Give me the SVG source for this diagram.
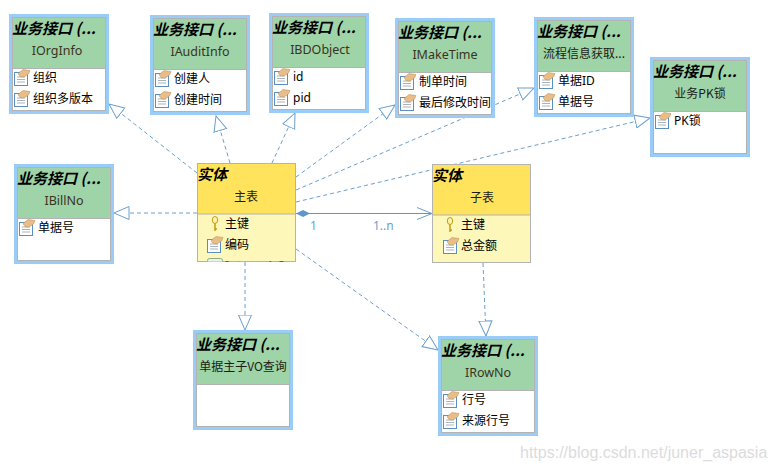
<svg xmlns="http://www.w3.org/2000/svg" width="775" height="470" viewBox="0 0 775 470">
<style>
.o{fill:#99ccf7}
.b{fill:#fff;stroke:#b3b3b3;stroke-width:1}
.h{fill:#9fd3a8;stroke:#b3b3b3;stroke-width:1}
.eh{fill:#ffe35c;stroke:#b3b3b3;stroke-width:1}
.eb{fill:#fdf7b9;stroke:#b3b3b3;stroke-width:1}
.t{font:italic bold 15px "Noto Sans CJK SC","Liberation Sans",sans-serif;fill:#000}
.n{font:12.500px "Noto Sans","Noto Sans CJK SC",sans-serif;fill:#3a3320;text-anchor:middle}
.nc{font:12px "Noto Sans CJK SC","Noto Sans",sans-serif;fill:#1c1c14;text-anchor:middle}
.f{font:12px "Noto Sans","Noto Sans CJK SC",sans-serif;fill:#000}
.c{fill:none;stroke:#6a9fd0;stroke-width:1;stroke-dasharray:4 3}
.s{fill:none;stroke:#5f95c8;stroke-width:1}
.l{font:12px "Noto Sans",sans-serif;fill:#6a9fd0}
.w{font:16px "Liberation Sans",sans-serif;fill:#dcdcdc}
</style>
<defs>
<marker id="tri" markerUnits="userSpaceOnUse" markerWidth="17" markerHeight="17" refX="15.500" refY="8" orient="auto"><path d="M15.500 8L0.500 1.500V14.500Z" fill="#fff" stroke="#6a9fd0"/></marker>
<marker id="open" markerUnits="userSpaceOnUse" markerWidth="18" markerHeight="16" refX="16" refY="7" orient="auto"><path d="M1 1L16 7L1 13" fill="none" stroke="#6a9fd0"/></marker>
<g id="ic">
<rect x="0.500" y="2.500" width="13" height="13" fill="#fff" stroke="#5b8fc0"/>
<path d="M3 7h8M3 9.500h8M3 12h8" stroke="#a9b4bf"/>
<path d="M4 3.500L9 -0.500L16 0.500L14.500 4L10 7L6 6.500Z" fill="#e8bd88" stroke="#b88a50" stroke-width=".5"/>
</g>
<g id="key">
<ellipse cx="4" cy="4" rx="2.700" ry="3.500" fill="#fff3b0" stroke="#c59a10"/>
<path d="M4 7.500V15M4 13H6" stroke="#c59a10" stroke-width="1.500" fill="none"/>
</g>
<clipPath id="cp"><rect x="198" y="215" width="97" height="46.500"/></clipPath>
</defs>
<rect width="775" height="470" fill="#fff"/>
<g id="connectors">
<path class="c" d="M197 173L109 104" marker-end="url(#tri)"/>
<path class="c" d="M230 163L216 116" marker-end="url(#tri)"/>
<path class="c" d="M272 163L295 113" marker-end="url(#tri)"/>
<path class="c" d="M296 177L395 105" marker-end="url(#tri)"/>
<path class="c" d="M296 190L534 88" marker-end="url(#tri)"/>
<path class="c" d="M296 202L650 118" marker-end="url(#tri)"/>
<path class="c" d="M197 213H114" marker-end="url(#tri)"/>
<path class="c" d="M245 262V330" marker-end="url(#tri)"/>
<path class="c" d="M296 249L438 350" marker-end="url(#tri)"/>
<path class="c" d="M483 263L486 336" marker-end="url(#tri)"/>
<path class="s" d="M296 213.500H432" marker-end="url(#open)"/>
<path d="M296 213.500L303 210L310 213.500L303 217Z" fill="#5f95c8"/>
<text class="l" x="310" y="230">1</text>
<text class="l" x="373" y="230">1..n</text>
</g>
<g id="n-IOrgInfo" transform="translate(9 14)">
<rect class="o" width="100" height="100"/><rect class="b" x="3.500" y="3.500" width="93" height="93"/><rect class="h" x="3.500" y="3.500" width="93" height="51"/>
<text class="t" x="3" y="20">业务接口 (...</text><text class="n" x="48" y="41">IOrgInfo</text>
<use href="#ic" x="5" y="56"/><text class="f" x="24" y="68">组织</text>
<use href="#ic" x="5" y="77"/><text class="f" x="24" y="89">组织多版本</text>
</g>
<g id="n-IAuditInfo" transform="translate(150 15)">
<rect class="o" width="100" height="100"/><rect class="b" x="3.500" y="3.500" width="93" height="93"/><rect class="h" x="3.500" y="3.500" width="93" height="51"/>
<text class="t" x="3" y="20">业务接口 (...</text><text class="n" x="50" y="41">IAuditInfo</text>
<use href="#ic" x="5" y="56"/><text class="f" x="24" y="68">创建人</text>
<use href="#ic" x="5" y="77"/><text class="f" x="24" y="89">创建时间</text>
</g>
<g id="n-IBDObject" transform="translate(269 13)">
<rect class="o" width="100" height="100"/><rect class="b" x="3.500" y="3.500" width="93" height="93"/><rect class="h" x="3.500" y="3.500" width="93" height="51"/>
<text class="t" x="3" y="20">业务接口 (...</text><text class="n" x="51" y="41">IBDObject</text>
<use href="#ic" x="5" y="56"/><text class="f" x="24" y="68">id</text>
<use href="#ic" x="5" y="77"/><text class="f" x="24" y="89">pid</text>
</g>
<g id="n-IMakeTime" transform="translate(395 18)">
<rect class="o" width="100" height="100"/><rect class="b" x="3.500" y="3.500" width="93" height="93"/><rect class="h" x="3.500" y="3.500" width="93" height="51"/>
<text class="t" x="3" y="20">业务接口 (...</text><text class="n" x="50" y="41">IMakeTime</text>
<use href="#ic" x="5" y="56"/><text class="f" x="24" y="68">制单时间</text>
<use href="#ic" x="5" y="77"/><text class="f" x="24" y="89">最后修改时间</text>
</g>
<g id="n-flow" transform="translate(534 17)">
<rect class="o" width="100" height="100"/><rect class="b" x="3.500" y="3.500" width="93" height="93"/><rect class="h" x="3.500" y="3.500" width="93" height="51"/>
<text class="t" x="3" y="20">业务接口 (...</text><text class="nc" x="50" y="41">流程信息获取...</text>
<use href="#ic" x="5" y="56"/><text class="f" x="24" y="68">单据ID</text>
<use href="#ic" x="5" y="77"/><text class="f" x="24" y="89">单据号</text>
</g>
<g id="n-PK" transform="translate(650 57)">
<rect class="o" width="100" height="100"/><rect class="b" x="3.500" y="3.500" width="93" height="93"/><rect class="h" x="3.500" y="3.500" width="93" height="51"/>
<text class="t" x="3" y="20">业务接口 (...</text><text class="nc" x="50" y="41">业务PK锁</text>
<use href="#ic" x="5" y="56"/><text class="f" x="24" y="68">PK锁</text>
</g>
<g id="n-IBillNo" transform="translate(14 164)">
<rect class="o" width="100" height="100"/><rect class="b" x="3.500" y="3.500" width="93" height="93"/><rect class="h" x="3.500" y="3.500" width="93" height="51"/>
<text class="t" x="3" y="20">业务接口 (...</text><text class="n" x="50" y="41">IBillNo</text>
<use href="#ic" x="5" y="56"/><text class="f" x="24" y="68">单据号</text>
</g>
<g id="n-query" transform="translate(193 330)">
<rect class="o" width="100" height="100"/><rect class="b" x="3.500" y="3.500" width="93" height="93"/><rect class="h" x="3.500" y="3.500" width="93" height="51"/>
<text class="t" x="3" y="20">业务接口 (...</text><text class="nc" x="50" y="41">单据主子VO查询</text>
</g>
<g id="n-IRowNo" transform="translate(438 336)">
<rect class="o" width="100" height="100"/><rect class="b" x="3.500" y="3.500" width="93" height="93"/><rect class="h" x="3.500" y="3.500" width="93" height="51"/>
<text class="t" x="3" y="20">业务接口 (...</text><text class="n" x="50" y="41">IRowNo</text>
<use href="#ic" x="5" y="56"/><text class="f" x="24" y="68">行号</text>
<use href="#ic" x="5" y="77"/><text class="f" x="24" y="89">来源行号</text>
</g>
<g id="n-main">
<rect class="eb" x="197.500" y="163.500" width="98" height="98"/><rect class="eh" x="197.500" y="163.500" width="98" height="50.500"/>
<text class="t" x="197" y="180">实体</text><text class="nc" x="246" y="201">主表</text>
<g clip-path="url(#cp)">
<use href="#key" x="211" y="216"/><text class="f" x="225" y="228">主键</text>
<use href="#ic" x="207" y="237"/><text class="f" x="225" y="249">编码</text>
<rect x="207.500" y="258.500" width="15" height="6" rx="2" fill="#eef2e0" stroke="#8fa88f"/>
<text class="f" x="225" y="269.500">Integer1 Code</text>
</g>
</g>
<g id="n-sub">
<rect class="eb" x="432.500" y="164.500" width="98" height="98"/><rect class="eh" x="432.500" y="164.500" width="98" height="50.500"/>
<text class="t" x="432" y="181">实体</text><text class="nc" x="482" y="202">子表</text>
<use href="#key" x="446" y="217"/><text class="f" x="461" y="229">主键</text>
<use href="#ic" x="443" y="238"/><text class="f" x="461" y="250">总金额</text>
</g>
<text class="w" x="520" y="458">https://blog.csdn.net/juner_aspasia</text>
</svg>
